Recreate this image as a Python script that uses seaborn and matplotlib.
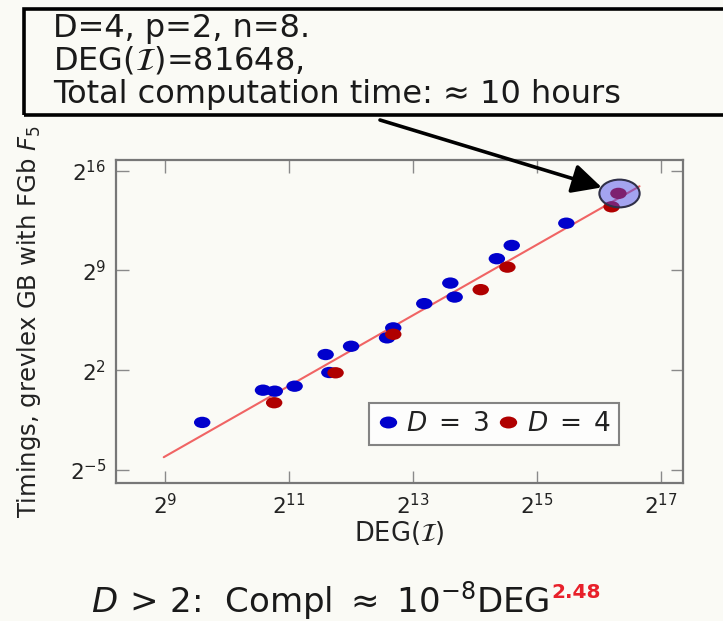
import numpy as np
import pandas as pd
import matplotlib
matplotlib.use("Agg")
import matplotlib.pyplot as plt
from matplotlib.path import Path
from matplotlib.patches import Rectangle
from matplotlib.lines import Line2D
import seaborn as sns

# log2 of DEG(I) and log2 of timing
d3_log2deg = [9.60, 10.58, 10.77, 11.09, 11.59, 11.65, 12.00, 12.58, 12.68,
              13.18, 13.60, 13.67, 14.35, 14.59, 15.47]
d3_log2time = [-1.66, 0.60, 0.53, 0.88, 3.10, 1.84, 3.68, 4.27, 4.97,
               6.67, 8.11, 7.13, 9.82, 10.75, 12.31]
d4_log2deg = [10.76, 11.75, 12.68, 14.09, 14.52, 16.20, 16.31]
d4_log2time = [-0.28, 1.82, 4.52, 7.65, 9.23, 13.46, 14.40]

# fitted line end points (log2 units)
fit_log2deg = [8.98, 16.65]
fit_log2time = [-4.10, 14.90]

# highlighted instance: DEG = 81648
highlight_log2deg = [16.32]
highlight_log2time = [14.45]

x_tick_exp = [9, 11, 13, 15, 17]
y_tick_exp = [-5, 2, 9, 16]
series_names = [r"$D\;=\;3$", r"$D\;=\;4$"]
series_colors = ["#0000cc", "#b00000"]

bg = "#fafaf5"

df = pd.DataFrame({
    "deg": np.power(2.0, d3_log2deg + d4_log2deg),
    "time": np.power(2.0, d3_log2time + d4_log2time),
    "series": [series_names[0]] * len(d3_log2deg) + [series_names[1]] * len(d4_log2deg),
})

sns.set_style("ticks")
plt.rcParams["font.family"] = ["DejaVu Sans"]

# slightly wide ellipse marker (the slide is stretched horizontally)
circ = Path.unit_circle()
ellipse = Path(circ.vertices * np.array([1.45, 1.0]), circ.codes)

fig = plt.figure(figsize=(7.23, 6.21), dpi=100, facecolor=bg)
ax = fig.add_axes([0.1604, 0.2222, 0.7842, 0.5201], facecolor=bg)
ax.set_xscale("log", base=2)
ax.set_yscale("log", base=2)

ax.plot(np.power(2.0, fit_log2deg), np.power(2.0, fit_log2time),
        color="#f06464", lw=1.5, zorder=1)

sns.scatterplot(data=df, x="deg", y="time", hue="series",
                palette=dict(zip(series_names, series_colors)),
                marker=ellipse, s=140, edgecolor="none", legend=False,
                ax=ax, zorder=2)

# translucent highlight circle
ax.scatter(np.power(2.0, highlight_log2deg), np.power(2.0, highlight_log2time),
           marker=ellipse, s=840, facecolor=(0.28, 0.28, 0.92, 0.48),
           edgecolor="#303048", linewidth=1.5, zorder=3)

ax.set_xlim(2 ** 8.21, 2 ** 17.35)
ax.set_ylim(2 ** -5.91, 2 ** 16.74)
ax.set_xticks([2.0 ** e for e in x_tick_exp])
ax.set_xticklabels([f"$2^{{{e}}}$" for e in x_tick_exp])
ax.set_yticks([2.0 ** e for e in y_tick_exp])
ax.set_yticklabels([f"$2^{{{e}}}$" for e in y_tick_exp])
ax.minorticks_off()
ax.tick_params(direction="in", length=9, width=1, color="#8a8a8a",
               top=True, right=True, labelsize=15.5, pad=7, labelcolor="#222222")
for sp in ax.spines.values():
    sp.set_color("#777777")
    sp.set_linewidth(1.6)

ax.set_xlabel(r"DEG($\mathcal{I}$)", fontsize=18.5, color="#222222", labelpad=1)
ax.set_ylabel(r"Timings, grevlex GB with FGb $F_5$", fontsize=17.5,
              color="#222222", labelpad=19)

handles = [Line2D([], [], ls="none", marker=ellipse, markersize=12.5,
                  markerfacecolor=c, markeredgecolor="none") for c in series_colors]
leg = ax.legend(handles, series_names, ncol=2, loc="lower right",
                bbox_to_anchor=(0.887, 0.118), fontsize=19, frameon=True,
                fancybox=False, handlelength=0.8, handletextpad=0.3,
                columnspacing=0.3, borderpad=0.3, borderaxespad=0)
leg.get_frame().set_edgecolor("#666666")
leg.get_frame().set_linewidth(1.5)
leg.get_frame().set_facecolor("white")
for txt in leg.get_texts():
    txt.set_color("#222222")

# annotation box at the top
fig.patches.append(Rectangle((24 / 723, 1 - 115 / 621), 1.0, 106 / 621,
                             transform=fig.transFigure, fill=False,
                             edgecolor="black", linewidth=2.6))
box_lines = ["D=4, p=2, n=8.", r"DEG($\mathcal{I}$)=81648,",
             "Total computation time: \u2248 10 hours"]
for i, line in enumerate(box_lines):
    fig.text(53 / 723, 1 - (37 + 33 * i) / 621, line, fontsize=23,
             va="baseline", ha="left", color="#1a1a1a")

ax.annotate("", xy=(2 ** highlight_log2deg[0], 2 ** highlight_log2time[0]),
            xycoords="data", xytext=(380 / 723, 1 - 120 / 621),
            textcoords="figure fraction",
            arrowprops=dict(arrowstyle="-|>,head_length=0.9,head_width=0.45",
                            lw=2.6, color="black", shrinkA=0, shrinkB=13,
                            mutation_scale=20))

# complexity formula at the bottom
formula = fig.text(91 / 723, 1 - 613 / 621,
                   r"$D\,>\,2$:  Compl $\approx$ $10^{-8}$DEG",
                   fontsize=24.5, va="baseline", ha="left", color="#1a1a1a")
fig.canvas.draw()
bb = formula.get_window_extent()
fig.text((bb.x1 + 2) / 723, 1 - 598 / 621, "2.48", fontsize=14.5,
         fontweight="bold", color="#e8202a", va="baseline", ha="left")

fig.savefig("out.png", dpi=100, facecolor=bg)
